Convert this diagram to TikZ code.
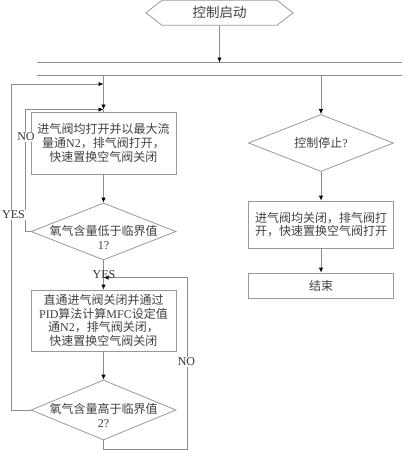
\documentclass[tikz,border=0pt]{standalone}
\usepackage{fontspec}
\setmainfont{Liberation Serif}
\newfontfamily\cjk{Noto Sans CJK SC}
\usetikzlibrary{arrows.meta,shapes.geometric,shapes.symbols}
\newcommand{\en}[1]{{\rmfamily #1}}

\begin{document}
\begin{tikzpicture}[x=1pt,y=-1pt,>={Latex[black,length=5pt,width=4.5pt]},line width=0.8pt]
	\tikzstyle{line}=[draw=black!45]
	\tikzstyle{box}=[rectangle, draw=black!40, inner sep=0pt]
	\tikzstyle{decision}=[diamond, draw=black!40, inner sep=0pt, minimum width=145]
	\tikzstyle{txt}=[font=\cjk\fontsize{12}{13.6}\selectfont, text=black!75, align=center]
	\tikzstyle{lbl}=[font=\fontsize{12}{14}\selectfont, text=black!80, fill=white, inner sep=1pt]

	\useasboundingbox (0,0) rectangle (402,450);

	\node [signal, signal to=west and east, signal pointer angle=76, draw=black!40, minimum width=147, minimum height=25, inner sep=0pt, txt, font=\cjk\fontsize{13.5}{15}\selectfont] (start) at (219.5,12.8) {控制启动};

	% fork bar
	\coordinate (f1l) at (37,62.5);
	\coordinate (f1r) at (402,62.5);
	\coordinate (f2l) at (37,75.5);
	\coordinate (f2r) at (402,75.5);
	\draw [line] (f1l) -- (f1r);
	\draw [line] (f2l) -- (f2r);
	\draw [line,->] (start) -- (start |- f1l);

	% left branch
	\node [box, txt, minimum width=145, minimum height=62] (b1) at (103.5,143) {进气阀均打开并以最大流\\量通\en{N2}，排气阀打开，\\快速置换空气阀关闭};
	\node [decision, minimum height=57, label={[txt, yshift=-6]center:氧气含量低于临界值\\\en{1?}}] (d1) at (103.5,231.5) {};
	\node [box, txt, minimum width=145, minimum height=61] (b2) at (103.5,320.5) {直通进气阀关闭并通过\\\en{PID}算法计算\en{MFC}设定值\\通\en{N2}，排气阀关闭，\\快速置换空气阀关闭};
	\node [decision, minimum height=60, label={[txt, yshift=-5.5]center:氧气含量高于临界值\\\en{2?}}] (d2) at (103.5,410) {};

	% right branch
	\node [decision, minimum height=57, label={[txt]center:控制停止\en{?}}] (d3) at (321,143) {};
	\node [box, txt, minimum width=145, minimum height=47] (b3) at (321,224.5) {进气阀均关闭，排气阀打\\开，快速置换空气阀打开};
	\node [box, txt, minimum width=145, minimum height=25] (b4) at (321,285.5) {结束};

	\coordinate (j1) at (103.5,109.5);
	\coordinate (j2) at (103.5,84);
	\coordinate (j3) at (103.5,277.5);

	\draw [line,->] (b1 |- f2l) -- (j1);
	\draw [line] (j1) -- (b1.north);
	\draw [line,->] (b1) -- (d1);
	\draw [line,->] (d1) -- (b2);
	\draw [line,->] (b2) -- (d2);
	\draw [line,->] (d3 |- f2l) -- (d3);
	\draw [line,->] (d3) -- (b3);
	\draw [line,->] (b3) -- (b4);

	% loops
	\draw [line,->] (d1.west) -- ++(-5,0) |- (j1);
	\draw [line,->] (d2.west) -- ++(-19,0) |- (j2);
	\draw [line,->] (d2.south) -- ++(0,9) -| (187,277.5) -- (j3);

	\node [lbl] (no1) at (26,137) {NO};
	\node [lbl] (yes2) at (13.5,215) {YES};
	\node [lbl] (no2) at (186.5,362) {NO};
	\node [lbl, fill=none] (yes1) at (104,275) {YES};
\end{tikzpicture}
\end{document}
